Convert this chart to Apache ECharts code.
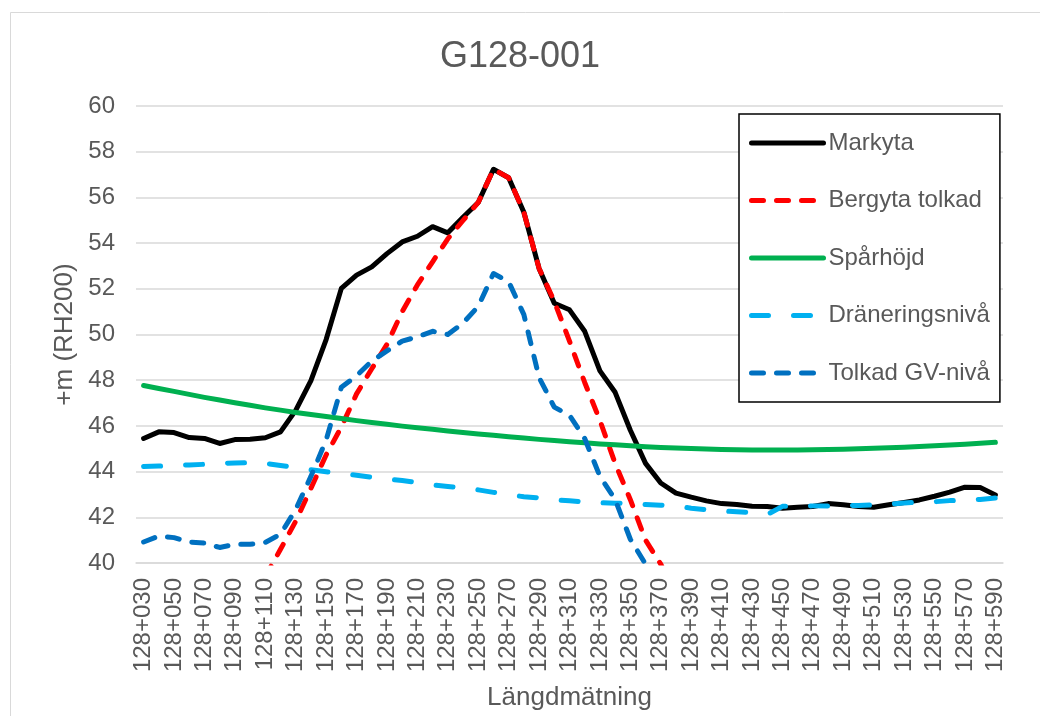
<!DOCTYPE html>
<html>
<head>
<meta charset="utf-8">
<script src="https://cdn.jsdelivr.net/npm/echarts@6/dist/echarts.min.js"></script>
<style>
html,body{margin:0;padding:0;background:#fff;}
#chart{width:1040px;height:716px;}
</style>
</head>
<body>
<div id="chart"></div>
<script>
const categories = ["128+030","128+040","128+050","128+060","128+070","128+080","128+090","128+100","128+110","128+120",
"128+130","128+140","128+150","128+160","128+170","128+180","128+190","128+200","128+210","128+220",
"128+230","128+240","128+250","128+260","128+270","128+280","128+290","128+300","128+310","128+320",
"128+330","128+340","128+350","128+360","128+370","128+380","128+390","128+400","128+410","128+420",
"128+430","128+440","128+450","128+460","128+470","128+480","128+490","128+500","128+510","128+520",
"128+530","128+540","128+550","128+560","128+570","128+580","128+590"];

const markyta = [45.45,45.74,45.71,45.49,45.45,45.23,45.40,45.42,45.48,45.74,
46.68,47.98,49.78,52.02,52.60,52.96,53.54,54.05,54.30,54.72,
54.45,55.13,55.78,57.23,56.86,55.35,52.89,51.37,51.08,50.14,
48.41,47.47,45.81,44.36,43.50,43.06,42.88,42.72,42.60,42.56,
42.48,42.47,42.40,42.44,42.47,42.60,42.55,42.47,42.44,42.55,
42.65,42.76,42.92,43.10,43.32,43.30,42.98];

const bergyta = [null,null,null,null,null,null,null,null,39.4,40.6,
41.83,43.27,44.73,45.95,47.40,48.50,49.57,51.00,52.17,53.18,
54.19,54.99,55.78,57.23,56.86,55.35,52.89,51.45,49.71,47.90,
46.24,44.36,42.77,41.00,39.95,38.5,null,null,null,null,
null,null,null,null,null,null,null,null,null,null,
null,null,null,null,null,null,null];

const sparhojd = [47.77,47.64,47.51,47.38,47.25,47.13,47.01,46.90,46.79,46.69,
46.59,46.50,46.41,46.32,46.23,46.15,46.07,45.99,45.92,45.85,
45.78,45.71,45.65,45.59,45.53,45.47,45.41,45.36,45.31,45.26,
45.21,45.17,45.13,45.09,45.06,45.03,45.01,44.99,44.97,44.96,
44.95,44.95,44.95,44.95,44.96,44.97,44.98,45.00,45.02,45.04,
45.07,45.10,45.13,45.16,45.20,45.24,45.28];

const dranering = [44.22,44.24,44.27,44.29,44.32,44.35,44.38,44.39,44.36,44.27,
44.17,44.08,43.99,43.91,43.84,43.75,43.68,43.61,43.52,43.42,
43.35,43.28,43.20,43.09,42.99,42.90,42.85,42.77,42.72,42.67,
42.64,42.62,42.59,42.56,42.53,42.49,42.40,42.33,42.28,42.24,
42.20,42.12,42.48,42.49,42.50,42.50,42.51,42.52,42.54,42.57,
42.63,42.66,42.68,42.73,42.75,42.78,42.85];

const gvniva = [40.92,41.18,41.11,40.92,40.87,40.68,40.82,40.82,40.90,41.26,
42.34,43.79,45.38,47.69,48.19,48.84,49.28,49.71,49.90,50.14,
50.00,50.50,51.23,52.67,52.31,50.87,48.12,46.82,46.46,45.45,
43.79,42.78,41.04,39.95,38.6,null,null,null,null,null,
null,null,null,null,null,null,null,null,null,null,
null,null,null,null,null,null,null];

const seriesNames = ["Markyta","Bergyta tolkad","Spårhöjd","Dräneringsnivå","Tolkad GV-nivå"];
const yTicks = {min:40, max:60, interval:2};

const FONT = '"Liberation Sans", Arial, sans-serif';
const TXT = '#595959';
const LW = 5;

const chart = echarts.init(document.getElementById('chart'), null, {renderer:'canvas'});

function mkSeries(name, data, color, dash){
  return {
    name: name, type:'line', data: data, symbol:'none', showSymbol:false,
    connectNulls:false, animation:false,
    lineStyle:{color:color, width:LW, type:dash, cap:'round', join:'round'},
    itemStyle:{color:color}
  };
}

chart.setOption({
  backgroundColor:'#ffffff',
  animation:false,
  textStyle:{fontFamily:FONT},
  graphic:[{
    type:'rect', z:-10, silent:true,
    shape:{x:10.5, y:12.5, width:1100, height:800},
    style:{fill:'none', stroke:'#D9D9D9', lineWidth:1}
  }],
  title:{
    text:'G128-001', left:'center', top:34, padding:5,
    textStyle:{fontFamily:FONT, fontSize:36, fontWeight:'normal', color:TXT}
  },
  legend:{
    orient:'vertical', left:739, top:114,
    padding:[17,10,17,10],
    borderColor:'#000', borderWidth:1.5, backgroundColor:'#fff',
    itemWidth:72, itemHeight:20, itemGap:33.5,
    itemStyle:{opacity:0},
    lineStyle:{width:LW, cap:'round'},
    textStyle:{fontFamily:FONT, fontSize:24, color:TXT, lineHeight:24},
    data: seriesNames
  },
  grid:{left:136, right:37, top:106, bottom:148, containLabel:false},
  xAxis:{
    type:'category', data:categories, boundaryGap:true,
    name:'Längdmätning', nameLocation:'middle', nameGap:122,
    nameTextStyle:{fontFamily:FONT, fontSize:26, color:TXT},
    axisLine:{show:true, lineStyle:{color:'#D9D9D9', width:1.5}},
    axisTick:{show:false},
    axisLabel:{interval:1, rotate:90, margin:15, fontFamily:FONT, fontSize:24, color:TXT},
    splitLine:{show:false}
  },
  yAxis:{
    type:'value', min:yTicks.min, max:yTicks.max, interval:yTicks.interval,
    name:'+m (RH200)', nameLocation:'middle', nameGap:49, nameRotate:90,
    nameTextStyle:{fontFamily:FONT, fontSize:26, color:TXT},
    axisLine:{show:false}, axisTick:{show:false},
    axisLabel:{margin:21, fontFamily:FONT, fontSize:24, color:TXT},
    splitLine:{show:true, lineStyle:{color:'#D9D9D9', width:1.5}}
  },
  series:[
    mkSeries(seriesNames[0], markyta, '#000000', 'solid'),
    mkSeries(seriesNames[1], bergyta, '#FF0000', [12,13]),
    mkSeries(seriesNames[2], sparhojd, '#00B050', 'solid'),
    mkSeries(seriesNames[3], dranering, '#00B0F0', [17,25]),
    mkSeries(seriesNames[4], gvniva, '#0070C0', [12,13])
  ]
});
</script>
</body>
</html>
